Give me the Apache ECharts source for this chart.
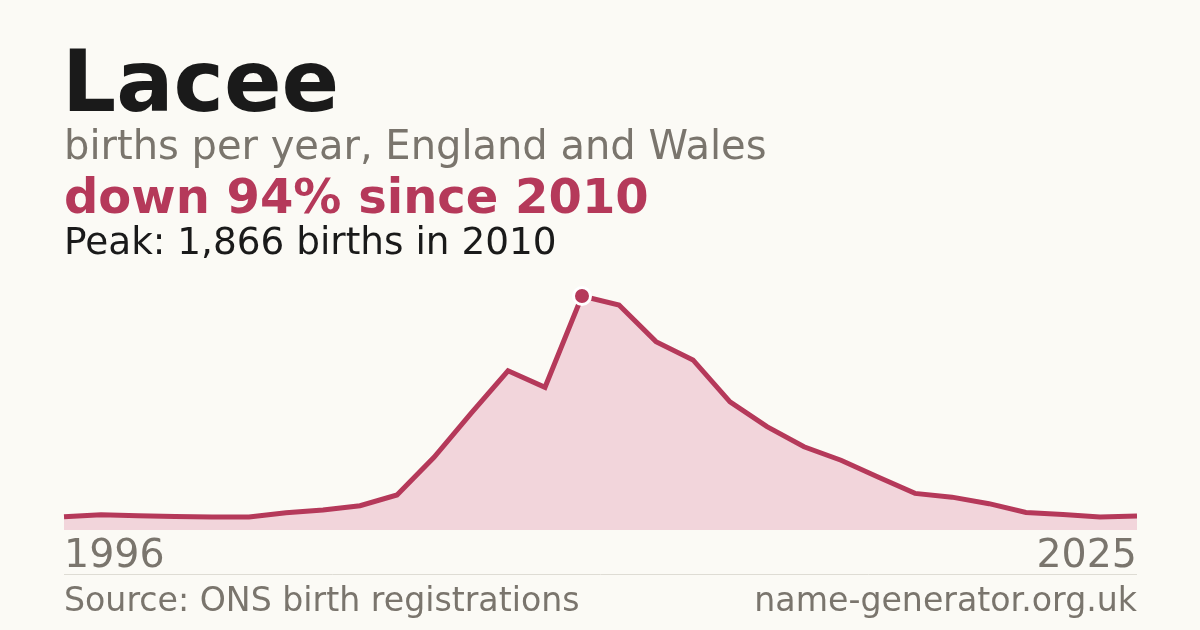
<!DOCTYPE html>
<html>
<head>
<meta charset="utf-8">
<script src="https://cdn.jsdelivr.net/npm/echarts@6/dist/echarts.min.js"></script>
<style>
html, body { margin: 0; padding: 0; background: #fbfaf5; }
#chart { width: 1200px; height: 630px; }
</style>
</head>
<body>
<div id="chart"></div>
<script>
var years = ['1996','1997','1998','1999','2000','2001','2002','2003','2004','2005',
	'2006','2007','2008','2009','2010','2011','2012','2013','2014','2015',
	'2016','2017','2018','2019','2020','2021','2022','2023','2024','2025'];
var births = [106,122,114,108,104,104,138,160,194,279,
	580,930,1270,1138,1866,1794,1502,1356,1022,824,
	664,556,422,292,262,210,140,124,104,112];
var shownYears = ['1996','2025'];

var RED = '#b5395a';
var GREY = '#7a756d';
var FONT = 'DejaVu Sans';

// peak point
var peakIdx = 0;
for (var i = 0; i < births.length; i++) {
	if (births[i] > births[peakIdx]) peakIdx = i;
}
var peak = births[peakIdx];

var myChart = echarts.init(document.getElementById('chart'));
var option = {
	backgroundColor: '#fbfaf5',
	animation: false,
	title: [
		{ text: 'Lacee', left: 57, top: 41,
			textStyle: { fontFamily: FONT, fontSize: 85, fontWeight: 'bold', color: '#1a1a1a' } },
		{ text: 'births per year, England and Wales', left: 59, top: 124,
			textStyle: { fontFamily: FONT, fontSize: 40, fontWeight: 'normal', color: GREY } },
		{ text: 'down 94% since 2010', left: 59, top: 172,
			textStyle: { fontFamily: FONT, fontSize: 48, fontWeight: 'bold', color: RED } },
		{ text: 'Peak: ' + peak.toLocaleString('en-GB') + ' births in ' + years[peakIdx], left: 59, top: 221,
			textStyle: { fontFamily: FONT, fontSize: 37.4, fontWeight: 'normal', color: '#1a1a1a' } },
		{ text: 'Source: ONS birth registrations', left: 59, top: 581,
			textStyle: { fontFamily: FONT, fontSize: 33.2, fontWeight: 'normal', color: GREY } },
		{ text: 'name-generator.org.uk', right: 58, top: 581,
			textStyle: { fontFamily: FONT, fontSize: 33.2, fontWeight: 'normal', color: GREY } }
	],
	graphic: [
		{ type: 'line', shape: { x1: 64, y1: 574.5, x2: 1137, y2: 574.5 },
			style: { stroke: '#dedcd4', lineWidth: 1 } }
	],
	grid: { left: 64, right: 63, top: 296, bottom: 100 },
	xAxis: {
		type: 'category',
		data: years,
		boundaryGap: false,
		axisLine: { show: false },
		axisTick: { show: false },
		splitLine: { show: false },
		axisLabel: {
			interval: 0,
			formatter: function (v) { return shownYears.indexOf(v) >= 0 ? v : ''; },
			alignMinLabel: 'left',
			alignMaxLabel: 'right',
			margin: 7,
			fontFamily: FONT,
			fontSize: 39.5,
			color: GREY
		}
	},
	yAxis: {
		type: 'value',
		min: 0,
		max: peak,
		show: false,
		splitLine: { show: false }
	},
	series: [
		{
			type: 'line',
			data: births,
			symbol: 'none',
			lineStyle: { color: RED, width: 5, cap: 'butt', join: 'miter' },
			areaStyle: { color: '#f2d5db', opacity: 1 },
			z: 2
		},
		{
			type: 'scatter',
			data: [[peakIdx, peak]],
			symbol: 'circle',
			symbolSize: 17,
			itemStyle: { color: RED, borderColor: '#ffffff', borderWidth: 3, opacity: 1 },
			z: 3
		}
	]
};
myChart.setOption(option);
</script>
</body>
</html>
